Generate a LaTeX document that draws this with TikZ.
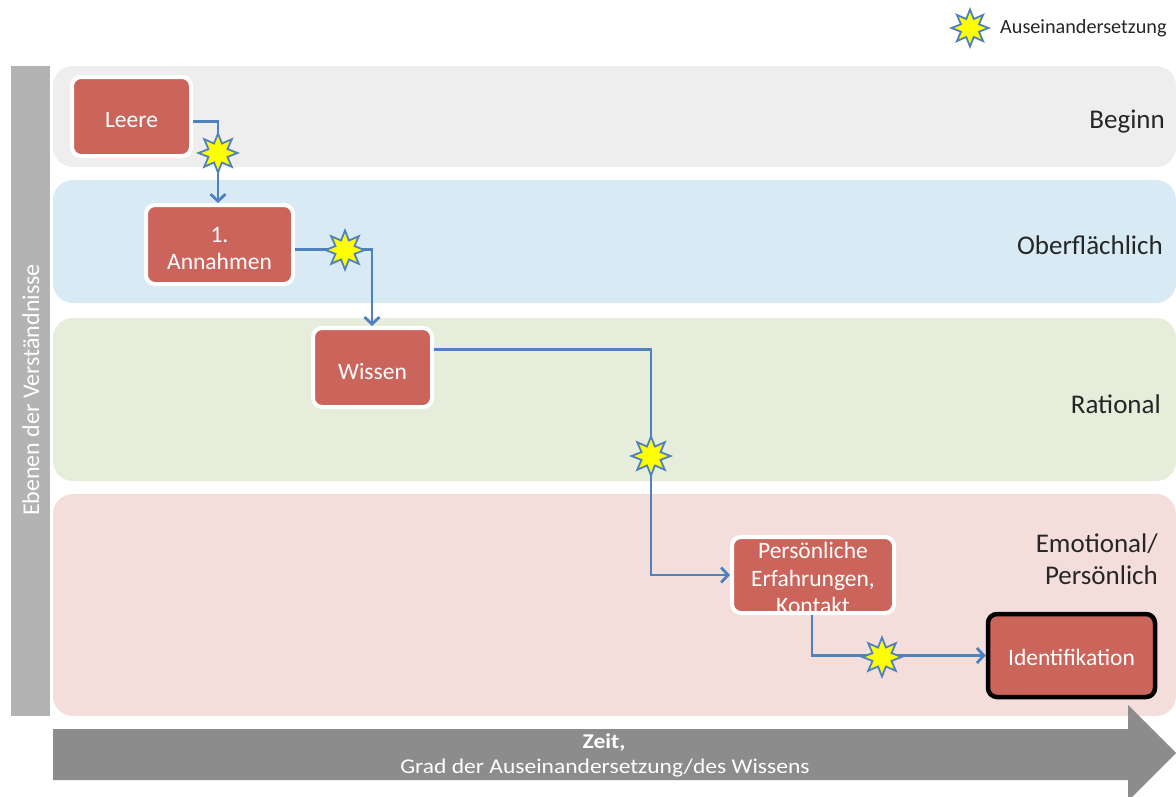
\documentclass[tikz,border=0pt]{standalone}
\usepackage{fontspec}
\setmainfont{Carlito}
\usetikzlibrary{shapes.geometric,arrows.meta,calc}
\definecolor{boxred}{HTML}{CB645B}
\definecolor{connblue}{HTML}{4F81BD}
\definecolor{bandgray}{HTML}{EEEEEE}
\definecolor{bandblue}{HTML}{D8EAF4}
\definecolor{bandgreen}{HTML}{E6EDDB}
\definecolor{bandpink}{HTML}{F4DEDB}
\definecolor{bargray}{HTML}{B3B3B3}
\definecolor{arrowgray}{HTML}{8C8C8C}
\definecolor{labeltext}{HTML}{262626}
\definecolor{staryellow}{HTML}{FFFF00}
\tikzset{
  band/.style={rounded corners=20pt},
  stagebox/.style={fill=boxred, draw=white, line width=4pt, rounded corners=9pt,
    inner sep=0pt},
  finalbox/.style={stagebox, draw=black, line width=4.5pt},
  boxtext/.style={text=white, align=center, inner sep=0pt,
    font=\fontsize{23.5}{27.5}\selectfont},
  levellabel/.style={text=labeltext, align=right, anchor=east, inner sep=0pt,
    font=\fontsize{27}{32}\selectfont},
  conn/.style={draw=connblue, line width=2.8pt},
  connarrow/.style={conn, -{Straight Barb[length=7pt,width=15pt,line width=2.8pt]}},
  clash/.style={star, star points=8, star point ratio=1.9, minimum size=39pt,
    inner sep=0pt, fill=staryellow, draw=connblue, line width=1.8pt},
}
\begin{document}
\begin{tikzpicture}[x=1pt,y=-1pt]
\useasboundingbox (0,0) rectangle (1176,796);
\fill[white] (0,0) rectangle (1176,796);

% left bar
\fill[bargray] (11,66) rectangle (50,716);
\node[rotate=90, text=white, inner sep=0pt, font=\fontsize{24}{28}\selectfont] (ebenen) at (31,390) {Ebenen der Verständnisse};

% bands
\fill[bandgray, band] (53,66) rectangle (1176,167);
\fill[bandblue, band] (53,180) rectangle (1176,303);
\fill[bandgreen, band] (53,318) rectangle (1176,481);
\fill[bandpink, band] (53,494) rectangle (1176,716);

\node[levellabel] (beginn) at (1165,122) {Beginn};
\node[levellabel] (oberfl) at (1163,245) {Oberflächlich};
\node[levellabel] (rational) at (1161,404) {Rational};
\node[levellabel] (emotional) at (1158,559) {Emotional/\\Persönlich};

% time arrow
\fill[arrowgray] (53,729) -- (1128,729) -- (1128,705) -- (1176,753) -- (1128,801) -- (1128,780) -- (53,780) -- cycle;
\node[text=white, inner sep=0pt, xscale=1.12, font=\bfseries\fontsize{21}{24}\selectfont] (zeit) at (604,743) {Zeit,};
\node[text=white, inner sep=0pt, xscale=1.12, font=\fontsize{21}{24}\selectfont] (grad) at (605,768) {Grad der Auseinandersetzung/des Wissens};

% stage boxes
\node[stagebox, minimum width=119pt, minimum height=79pt] (leere) at (131.5,116.5) {};
\node[stagebox, minimum width=147pt, minimum height=79pt] (annahmen) at (219.5,244.5) {};
\node[stagebox, minimum width=119pt, minimum height=79pt] (wissen) at (372.5,367.5) {};
\node[stagebox, minimum width=162pt, minimum height=76pt] (pers) at (813,575) {};
\node[finalbox, minimum width=167pt, minimum height=83pt] (ident) at (1071.5,655.5) {};

\node[boxtext] (leere-t) at ([yshift=-3.5pt]leere.center) {Leere};
\node[boxtext] (annahmen-t) at ([yshift=-4pt]annahmen.center) {1.\\Annahmen};
\node[boxtext] (wissen-t) at ([yshift=-3.5pt]wissen.center) {Wissen};
\node[boxtext] (pers-t) at ([yshift=-3pt]pers.center) {Persönliche\\Erfahrungen,\\Kontakt};
\node[boxtext] (ident-t) at ([yshift=-2pt]ident.center) {Identifikation};

% connectors
\coordinate (k1) at (218,160);
\coordinate (k2) at (372,300);
\coordinate (k3) at (651,460);
\draw[connarrow] ([yshift=-5pt]leere.east) -| (k1) -- (k1 |- annahmen.north);
\draw[connarrow] ([yshift=-5pt]annahmen.east) -| (k2) -- (k2 |- wissen.north);
\draw[connarrow] ([yshift=18pt]wissen.east) -| (k3) |- (pers.west);
\draw[connarrow] ([xshift=-1pt]pers.south) |- (ident.west);

% clash stars
\node[clash] (s1) at (218,153) {};
\node[clash] (s2) at (345,250) {};
\node[clash] (s3) at (651,456) {};
\node[clash] (s4) at (882,657) {};

% legend
\node[clash, minimum size=37pt] (legstar) at (970,28) {};
\node[anchor=west, inner sep=0pt, text=labeltext, font=\fontsize{20.2}{23}\selectfont] (legtext) at (1000,28) {Auseinandersetzung};
\end{tikzpicture}
\end{document}
